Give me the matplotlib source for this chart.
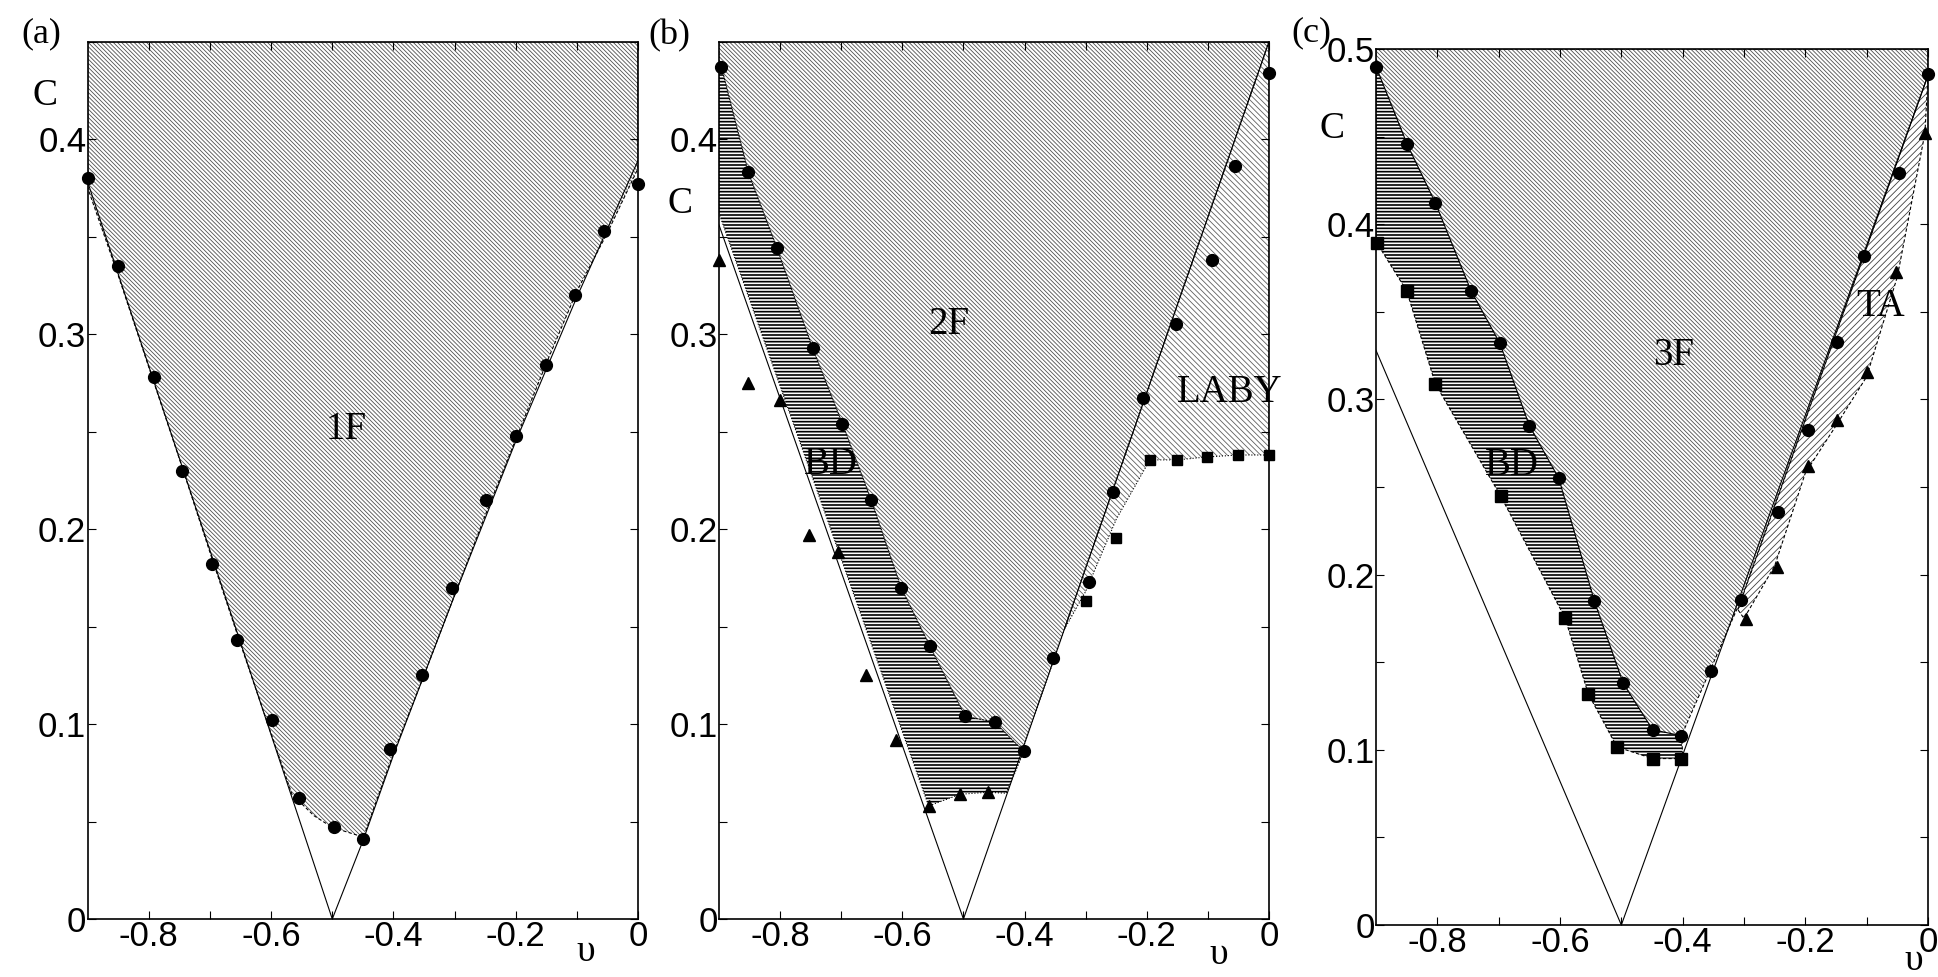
import numpy as np
import matplotlib.pyplot as plt

plt.rcParams['font.family'] = ['Liberation Sans', 'DejaVu Sans']
plt.rcParams['hatch.linewidth'] = 0.6
SERIF = ['Liberation Serif', 'DejaVu Serif']
BSL = chr(92)  # backslash, for the hatch patterns

# ---------------- panel (a) ----------------
a_circ_v = [-0.9, -0.85, -0.792, -0.745, -0.696, -0.656, -0.598, -0.554, -0.497, -0.449,
            -0.406, -0.353, -0.305, -0.248, -0.2, -0.151, -0.103, -0.056, 0.0]
a_circ_c = [0.380, 0.335, 0.278, 0.230, 0.182, 0.143, 0.102, 0.062, 0.047, 0.041,
            0.087, 0.125, 0.170, 0.215, 0.248, 0.284, 0.320, 0.353, 0.377]
a_left_v = [-0.9, -0.5]
a_left_c = [0.378, 0.0]
a_right_v = [-0.5, -0.45, -0.4, -0.3, -0.2, -0.1, 0.0]
a_right_c = [0.0, 0.04, 0.084, 0.166, 0.245, 0.319, 0.389]
# dashed border of the 1F phase
a_1f_v = [-0.9, -0.9, -0.85, -0.8, -0.75, -0.7, -0.65, -0.6, -0.566, -0.53, -0.5, -0.449,
          -0.4, -0.35, -0.3, -0.25, -0.2, -0.15, -0.1, -0.05, 0.0, 0.0]
a_1f_c = [0.45, 0.375, 0.33, 0.283, 0.236, 0.188, 0.141, 0.095, 0.064, 0.053, 0.047, 0.042,
          0.085, 0.125, 0.166, 0.207, 0.246, 0.285, 0.322, 0.352, 0.385, 0.45]

# ---------------- panel (b) ----------------
b_circ_v = [-0.896, -0.852, -0.805, -0.747, -0.698, -0.651, -0.602, -0.555, -0.497, -0.449,
            -0.401, -0.354, -0.295, -0.255, -0.206, -0.153, -0.094, -0.055, 0.0]
b_circ_c = [0.437, 0.383, 0.344, 0.293, 0.254, 0.215, 0.170, 0.140, 0.104, 0.101,
            0.086, 0.134, 0.173, 0.219, 0.267, 0.305, 0.338, 0.386, 0.434]
b_tri_v = [-0.9, -0.853, -0.8, -0.752, -0.705, -0.659, -0.61, -0.557, -0.505, -0.46]
b_tri_c = [0.338, 0.275, 0.266, 0.197, 0.188, 0.125, 0.092, 0.058, 0.064, 0.065]
b_sq_v = [-0.3, -0.25, -0.195, -0.15, -0.102, -0.05, 0.0]
b_sq_c = [0.163, 0.1955, 0.2355, 0.2355, 0.237, 0.238, 0.238]
b_left_v = [-0.9, -0.5]
b_left_c = [0.356, 0.0]
b_right_v = [-0.5, 0.0]
b_right_c = [0.0, 0.45]
b_2f_v = [-0.9, 0.0, -0.401] + b_circ_v[10::-1] + [-0.9]
b_2f_c = [0.45, 0.45, 0.089] + b_circ_c[10::-1] + [0.437]
b_bd_v = [-0.9] + b_circ_v[:11] + [-0.43, -0.46, -0.505, -0.557, -0.9]
b_bd_c = [0.437] + b_circ_c[:11] + [0.0645, 0.065, 0.064, 0.058, 0.362]
b_laby_v = [0.0, 0.0, -0.05, -0.102, -0.15, -0.195, -0.25, -0.3, -0.335]
b_laby_c = [0.45, 0.238, 0.238, 0.237, 0.2355, 0.2355, 0.205, 0.168, 0.1485]

# ---------------- panel (c) ----------------
c_circ_v = [-0.9, -0.849, -0.803, -0.745, -0.698, -0.65, -0.602, -0.544, -0.497, -0.449,
            -0.402, -0.353, -0.305, -0.244, -0.196, -0.149, -0.104, -0.048, 0.0]
c_circ_c = [0.490, 0.4455, 0.412, 0.362, 0.332, 0.285, 0.255, 0.185, 0.138, 0.1115,
            0.108, 0.145, 0.1855, 0.2355, 0.2825, 0.333, 0.382, 0.429, 0.4856]
c_sq_v = [-0.898, -0.85, -0.803, -0.697, -0.592, -0.554, -0.507, -0.449, -0.402]
c_sq_c = [0.389, 0.362, 0.3087, 0.245, 0.1755, 0.132, 0.1016, 0.095, 0.095]
c_tri_v = [-0.297, -0.247, -0.196, -0.149, -0.1, -0.052, -0.005]
c_tri_c = [0.1748, 0.2046, 0.262, 0.288, 0.3155, 0.3726, 0.452]
c_left_v = [-0.9, -0.5]
c_left_c = [0.328, 0.0]
c_right_v = [-0.5, 0.0]
c_right_c = [0.0, 0.485]
c_3f_v = [-0.9, 0.0, 0.0, -0.305] + c_circ_v[10::-1]
c_3f_c = [0.5, 0.5, 0.485, 0.1855] + c_circ_c[10::-1]
c_bd_v = c_circ_v[:11] + [-0.4] + c_sq_v[::-1] + [-0.9]
c_bd_c = c_circ_c[:11] + [0.098] + c_sq_c[::-1] + [0.389]
c_ta_v = [-0.31, 0.0, -0.005, -0.05, -0.1, -0.15, -0.2, -0.25, -0.3]
c_ta_c = [0.18, 0.485, 0.452, 0.37, 0.313, 0.285, 0.258, 0.205, 0.175]

xlabels = ['-0.8', '-0.6', '-0.4', '-0.2', '0']

W, H = 1938, 977
fig = plt.figure(figsize=(W / 100, H / 100), dpi=100)


def box(l, t, r, b):
    return [l / W, 1 - b / H, (r - l) / W, (b - t) / H]


def region(ax, v, c, hatch, color, ls, hlw=0.6):
    with plt.rc_context({'hatch.linewidth': hlw}):
        ax.fill(v, c, facecolor='white', edgecolor=color, hatch=hatch, linewidth=0, zorder=1)
    ax.plot(list(v) + [v[0]], list(c) + [c[0]], ls=ls, color='k', lw=0.8, zorder=2)


def style(ax, ymax, ylabels):
    ax.set_xlim(-0.9, 0)
    ax.set_ylim(0, ymax)
    ax.set_xticks([-0.8, -0.6, -0.4, -0.2, 0.0])
    ax.set_xticklabels(xlabels)
    ax.set_xticks([-0.7, -0.5, -0.3, -0.1], minor=True)
    yt = np.arange(len(ylabels)) * 0.1
    ax.set_yticks(yt)
    ax.set_yticklabels(ylabels)
    ax.set_yticks(yt[:-1] + 0.05 if yt[-1] + 0.05 > ymax else yt + 0.05, minor=True)
    ax.tick_params(which='both', direction='in', top=True, right=True, length=6,
                   width=0.8, labelsize=25, pad=1)
    for s in ax.spines.values():
        s.set_linewidth(1.2)


ax_a = fig.add_axes(box(87.7, 41.7, 638, 919))
ax_b = fig.add_axes(box(719, 41.7, 1269, 919))
ax_c = fig.add_axes(box(1376, 49, 1928, 925))

diag = BSL * 8

# (a)
region(ax_a, a_1f_v, a_1f_c, diag, '#505050', (0, (3, 2)))
ax_a.plot(a_left_v, a_left_c, 'k-', lw=0.8, zorder=3)
ax_a.plot(a_right_v, a_right_c, 'k-', lw=0.8, zorder=3)
ax_a.plot(a_circ_v, a_circ_c, 'ko', ms=8.5, clip_on=False, zorder=4)
ax_a.text(-0.478, 0.251, '1F', fontsize=28, family=SERIF, ha='center', va='center')
style(ax_a, 0.45, ['0', '0.1', '0.2', '0.3', '0.4'])

# (b)
region(ax_b, b_2f_v, b_2f_c, diag, '#505050', ':')
region(ax_b, b_laby_v, b_laby_c, BSL * 6, '#606060', ':')
region(ax_b, b_bd_v, b_bd_c, '-----', 'black', ':', hlw=1.2)
ax_b.plot(b_left_v, b_left_c, 'k-', lw=0.8, zorder=3)
ax_b.plot(b_right_v, b_right_c, 'k-', lw=0.8, zorder=3)
ax_b.plot(b_circ_v, b_circ_c, 'ko', ms=8.5, clip_on=False, zorder=4)
ax_b.plot(b_tri_v, b_tri_c, 'k^', ms=9, clip_on=False, zorder=4)
ax_b.plot(b_sq_v, b_sq_c, 'ks', ms=6.5, clip_on=False, zorder=4)
ax_b.text(-0.524, 0.305, '2F', fontsize=28, family=SERIF, ha='center', va='center')
ax_b.text(-0.717, 0.233, 'BD', fontsize=28, family=SERIF, ha='center', va='center')
ax_b.text(-0.064, 0.27, 'LABY', fontsize=28, family=SERIF, ha='center', va='center',
          clip_on=False)
style(ax_b, 0.45, ['0', '0.1', '0.2', '0.3', '0.4'])

# (c)
region(ax_c, c_3f_v, c_3f_c, diag, '#505050', (0, (3, 2)))
region(ax_c, c_bd_v, c_bd_c, '-----', 'black', (0, (3, 2)), hlw=1.2)
region(ax_c, c_ta_v, c_ta_c, '/' * 5, '#404040', (0, (3, 2)))
ax_c.plot(c_left_v, c_left_c, 'k-', lw=0.8, zorder=3)
ax_c.plot(c_right_v, c_right_c, 'k-', lw=0.8, zorder=3)
ax_c.plot(c_circ_v, c_circ_c, 'ko', ms=8.5, clip_on=False, zorder=4)
ax_c.plot(c_sq_v, c_sq_c, 'ks', ms=9, clip_on=False, zorder=4)
ax_c.plot(c_tri_v, c_tri_c, 'k^', ms=9, clip_on=False, zorder=4)
ax_c.text(-0.415, 0.325, '3F', fontsize=28, family=SERIF, ha='center', va='center')
ax_c.text(-0.678, 0.262, 'BD', fontsize=28, family=SERIF, ha='center', va='center')
ax_c.text(-0.078, 0.353, 'TA', fontsize=28, family=SERIF, ha='center', va='center')
style(ax_c, 0.5, ['0', '0.1', '0.2', '0.3', '0.4', '0.5'])

# panel letters and axis names
for px, py, s in [(41, 34, '(a)'), (669, 36, '(b)'), (1311, 33, '(c)')]:
    fig.text(px / W, 1 - py / H, s, fontsize=26, family=SERIF, ha='center', va='center')
for px, py in [(45, 96), (680, 204), (1332, 129)]:
    fig.text(px / W, 1 - py / H, 'C', fontsize=27, family=SERIF, ha='center', va='center')
for px, py in [(586, 952), (1219, 955), (1914, 961)]:
    fig.text(px / W, 1 - py / H, 'υ', fontsize=27, family=SERIF, ha='center', va='center')

fig.savefig('out.png', dpi=100)
